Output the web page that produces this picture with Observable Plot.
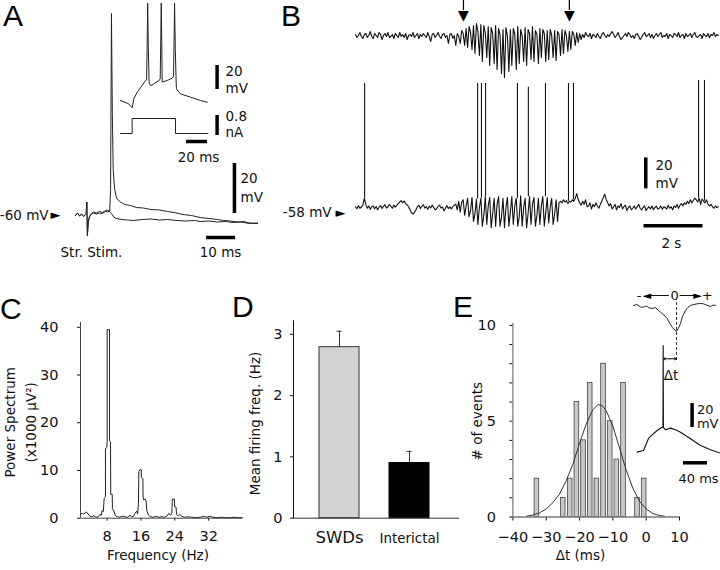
<!DOCTYPE html>
<html><head><meta charset="utf-8">
<script src="https://cdn.jsdelivr.net/npm/d3@7"></script>
<script src="https://cdn.jsdelivr.net/npm/@observablehq/plot@0.6"></script>
<style>
body{margin:0;background:#fff;}
#fig{position:relative;width:720px;height:570px;overflow:hidden;background:#fff;font-family:"DejaVu Sans",sans-serif;}
.letter{position:absolute;font-family:"Liberation Sans",Arial,sans-serif;font-size:30px;line-height:30px;color:#000;}
#fig svg [aria-label^="x-axis"] text, #fig svg [aria-label^="y-axis"] text{font-size:14.5px;font-family:"DejaVu Sans",sans-serif;fill:#111;}
</style></head><body><div id="fig"></div>
<script>
// ---------------- DATA ----------------
// Panel A: membrane potential (ms, mV); two sweeps after striatal stimulation
const aSweepSpike = [[0,-60.4],[0.7,-59.4],[1.4,-60.6],[2.1,-59.8],[2.8,-60.8],[3.4,-60.0],[3.7,-59.6],[3.9,-55.0],[4.1,-68.4],[4.4,-63.0],[4.8,-61.0],[5.4,-59.8],[6.2,-59.0],[7.2,-59.4],[8.2,-58.8],[9.2,-59.2],[10.2,-58.6],[11.0,-59.0],[11.8,-58.6],[12.1,-50],[12.4,20.4],[12.7,-20],[13.0,-42],[13.5,-50],[14.2,-53.6],[15.5,-55],[17,-56],[19,-56.4],[21,-57.2],[23.4,-57.4],[26,-58],[29,-58.2],[31.7,-58.8],[34,-59.2],[37,-60],[40,-60.4],[43,-61.2],[46,-61.6],[49,-62],[51,-62.4],[53.4,-62.6],[56,-63],[58,-62.8],[60,-63.4],[62.8,-63.6]];
const aSweepNoSpike = [[0,-60.4],[0.7,-59.4],[1.4,-60.6],[2.1,-59.8],[2.8,-60.8],[3.4,-60.0],[3.7,-59.6],[3.9,-55.0],[4.1,-68.4],[4.4,-63.0],[4.8,-61.0],[5.4,-59.8],[6.2,-59.4],[7.2,-59.8],[8.2,-59.4],[9.2,-59.6],[10.0,-59.0],[10.8,-58.2],[11.6,-58.6],[12.4,-59.6],[13.2,-61],[14,-61.6],[16,-62],[18,-62.2],[20,-62.4],[23,-62],[26,-61.8],[29,-62.2],[31.7,-62],[35,-62.4],[38,-62.6],[41,-62.4],[43,-62.8],[46,-62.6],[49,-63],[52,-62.8],[54,-63.2],[57,-63],[60,-63.6],[62.8,-63.4]];
// Panel A inset: response to current step (ms, mV relative to rest) and injected current (ms, nA)
const insetVm = [[0,0],[7.9,-2.9],[11.1,-6.3],[12.7,1.5],[15.9,7.2],[20.6,13],[23.8,17.4],[24.9,18],[25.4,50],[25.9,84.6],[26.4,50],[27.3,14.3],[29,13],[31.7,14.5],[36.5,17.4],[37.8,18.5],[38.3,50],[38.8,84.6],[39.3,50],[39.7,16],[44.4,17.4],[49.2,19.4],[50.5,21],[51,50],[51.5,84.6],[52.2,45],[53,16],[53.3,10.2],[57.1,5.8],[66.7,2.9],[76.2,0],[82.6,-1.5]];
const insetCurrent = [[0,0],[11.1,0],[11.1,0.6],[52.4,0.6],[52.4,0],[83.2,0]];
// Panel B: EEG (arbitrary units, up positive) and membrane potential (mV re -58 mV), sampled every 0.05 s
const dtB = 0.05;
const eegB = [
  1,-2,0,3,-1,-3,1,2,-2,0, 4,-1,-3,2,0,-2,3,1,-4,0, 2,-1,3,-2,-1,1,-3,2,0,-2, 3,-1,1,-2,2,-4,0,1,-1,3,
  -2,0,2,-3,1,-1,2,0,-2,3, -1,-6,1,2,-2,0,3,-1,-3,1, 2,-2,0,-8,1,2,-3,0,-10,2, -1,
  -8,5,2,-10,7, -12,9,3,-14,10, -18,12,4,-20,11, -26,10,3,-22,9, -30,8,2,-28,10, -34,7,1,-38,6,
  -42,8,0,-36,6, -30,7,1,-34,9, -28,6,0,-26,8, -30,6,2,-24,9, -26,5,1,-28,7, -22,6,2,-26,5,
  -24,6,0,-22,5, -25,4,1,-20,6, -18,5,0,-16,4, -14,4,1,-10,3, -7,2,-4,
  1,-2,3,0,-1,2,-3,1,0,-2, 2,-1,-3,1,3,0,-2,1,-1,2, 4,1,-2,0,3,-1,-4,-2,0,2, -1,3,1,-2,0,-3,1,2,-1,-4,
  -2,1,3,-1,0,2,-2,1,-3,0, 2,-1,1,3,-2,0,-1,2,-3,1, 0,-2,2,1,-1,3,-2,0,1,-3, 2,-1,0,2,-2,1,3,-1,-2,0,
  1,-3,2,0,-1,2,-2,1,0,3, -1,1,0];
const vmB = [
  0.5,-0.8,1.2,-0.5,0.3,1.5,6,2,-0.5,1, -1.2,0.4,1,-0.8,0.6,-1.5,0.2,1.3,-0.6,0.8, 1.8,-0.4,0.5,2,0.8,-0.5,1.6,0.2,1.4,2.5,
  3.5,4.5,3,4.2,2.5,1.8,0.5,-1.5,-3.5,-4.2, -3.2,-1.5,0.5,1.5,-0.6,0.8,1.8,-0.4,0.6,-1.2, 0.9,-0.3,1.6,0.2,-1.5,-0.8,0.7,1.5,-0.4,0.3,
  -2.2,-0.5,1.2,-0.7,0.4,-1,0.6,1.4,2.2,-1.5, 4,-3,3.5,5,-5,1,6,-6,-2,6.5, -9,-4,5.5,-11,0,6,-12,-5,7,-11,
  1,6.5,-13,-4,6,-12,2,7,-12,-6, 6,-13,0,6.5,-12,-3,7,-11,1,6, -12,-6,7.5,-12,0,6,-13,-4,7,-11,
  2,6.5,-12,-5,6,-11,1,7,-12,-3, 6.5,-10,0,6,-11,-4,5,-9,3,4, 3,5,3.5,4.5,2.5,4,3.5,5,4,6,
  9,5,3,1.5,4,2,5,0.5,1,3, -1,2,0.5,3,1,-0.5,2,4,6.5,8.5, 5,3,1,2.5,-1,0.5,2,-1.5,1,0,
  2.5,-1,0.5,1.5,-2,0,1,-1.5,-0.5,1, -1,0.5,2,-0.5,-1.5,0,1,-2,-0.5,0.5, -1,1,-1.5,0,0.8,-1,-0.5,1,-1.2,0.5,
  0,-1,1.5,-0.5,0.5,-1.5,1,0,2,-0.5, 1.5,2.5,1,3,2,4,2.5,5,3,4.5, 6,5,3.5,6,2,5.5,4,3,5,2,
  1,2,0.5,-0.5,1,0,0.5];
const spikeT    = [0.31,4.14,4.27,4.41,5.49,5.86,6.44,7.22,7.39,11.63,11.83];
const spikeBase = [6,5.5,6,7,6,7,7,4,5,6,4];
const spikePeak = [80,80,80,80,80,77.5,80,80,80,82,82];
const swdMarkT = [3.66, 7.25];
// Panel C: power spectrum (Hz, x1000 µV²)
const specF = [1.8,2.2,2.5,2.8,3.1,3.4,3.7,4.0,4.4,4.8,5.2,5.6,6.0,6.3,6.6,6.8,7.1,7.3,7.6,7.6,7.9,8.0,8.0,8.55,8.55,8.8,8.85,9.2,9.25,9.6,9.9,10.4,11,11.6,12.2,12.8,13.4,13.8,14.2,14.6,15.0,15.2,15.4,15.5,15.9,16.05,16.1,16.45,16.5,16.7,17.0,17.2,17.4,17.8,18.3,19,19.6,20.2,21,21.6,22.2,22.6,23.0,23.3,23.4,23.9,23.95,24.3,24.4,24.8,25.2,25.6,26.3,27,28,29,30,31,31.5,32.3,33,34,35,36,37,38,39,40];
const specP = [0.9,1.0,0.8,1.2,1.3,1.0,0.6,0.4,0.3,0.5,0.3,0.2,0.4,0.8,0.6,1.6,1.4,4.2,4.5,14.5,14.8,16,39.5,39.5,16.2,16,5.0,5.0,2.0,1.5,0.6,0.3,0.2,0.4,0.3,0.2,0.6,0.3,0.4,1.0,1.5,0.9,3.0,9.8,10.3,10.1,8.5,8.3,4.4,3.8,4.0,3.6,1.5,0.6,0.3,0.2,0.4,0.2,0.3,0.2,0.5,1.0,0.6,1.2,4.0,4.0,2.4,2.3,0.8,0.5,0.8,0.4,0.2,0.3,0.2,0.1,0.2,0.4,0.2,0.4,0.2,0.1,0.2,0.1,0.1,0.2,0.1,0.1];
// Panel D: mean firing frequency (Hz) ± SEM
const dCats = ["SWDs", "Interictal"];
const dMeans = [2.79, 0.90];
const dSems = [0.26, 0.19];
// Panel E: histogram of spike–SWD delays (ms) and Gaussian fit
const histCenters = [-32.8,-24.9,-22.8,-20.8,-18.8,-16.8,-14.8,-12.8,-10.8,-8.8,-6.8,-2.6,-0.6];
const histCounts  = [2,1,2,6,4,7,2,8,5,3,7,1,2];
const fitT = [-36,-34,-32,-30,-28,-26,-24,-22,-20,-18,-16,-14.4,-13,-12,-10,-8,-6,-4,-2,0,2,4,5.5];
const fitN = [0.04,0.1,0.22,0.42,0.75,1.2,1.9,2.75,3.85,4.85,5.6,5.88,5.78,5.55,4.75,3.6,2.45,1.5,0.82,0.42,0.18,0.08,0.04];
// Panel E inset: averaged EEG wave (a.u.) and intracellular spike (mV re baseline), ms re EEG trough
const insetEeg = [[-71.7,0],[-66,1],[-60,-1.5],[-55,-1.7],[-50,-0.5],[-45,-2.5],[-40.5,-3],[-35,-2],[-30,-5],[-26.7,-6.7],[-21,-9.5],[-15.5,-13],[-11,-18],[-7.2,-21.7],[-3,-24.5],[0,-25.7],[3,-23],[6.7,-18],[10,-11],[15,-5],[19,-2],[23.3,0],[29,1],[34.5,1.7],[40,2],[45,1.7],[50,0.5],[56.7,-1],[61,0.5],[65,0]];
const insetSpike = [[-65.5,0.3],[-55,1.7],[-46.7,11.7],[-38.3,15.8],[-30,19.2],[-23.8,21.1],[-22.6,21.1],[-22.2,89.2],[-21.8,21],[-18.3,18.9],[-10,20.3],[-1.7,18.9],[6.7,16.9],[23.3,11.4],[40,5.8],[56.7,2.2],[73.3,-0.6]];

// ---------------- HELPERS ----------------
const fig = document.getElementById("fig");
function place(el, left, top) {
  const d = document.createElement("div");
  d.style.position = "absolute"; d.style.left = left + "px"; d.style.top = top + "px";
  d.appendChild(el); fig.appendChild(d);
}
function letter(s, left, top) {
  const d = document.createElement("div"); d.className = "letter";
  d.style.left = left + "px"; d.style.top = top + "px"; d.textContent = s; fig.appendChild(d);
}
const baseStyle = {background: "transparent", overflow: "visible", fontFamily: "DejaVu Sans, sans-serif", fontSize: "14.5px", color: "#111"};
function bare(w, h, xd, yd, marks) {
  return Plot.plot({width: w, height: h, margin: 0, x: {domain: xd, axis: null}, y: {domain: yd, axis: null}, style: baseStyle, marks});
}
const txt = (s, o) => Plot.text([s], {text: d => d, fontFamily: "DejaVu Sans, sans-serif", fontSize: 13.5, fill: "#111", ...o});
const bar = 3.5;

// ---------------- PANEL A ----------------
place(bare(262, 262, [-25.86, 64.48], [-79.2, 25.6], [
  Plot.line(aSweepNoSpike, {x: d => d[0], y: d => d[1], stroke: "#222", strokeWidth: 1}),
  Plot.line(aSweepSpike, {x: d => d[0], y: d => d[1], stroke: "#222", strokeWidth: 1}),
  Plot.ruleX([54.8], {y1: -59.6, y2: -39.6, stroke: "#000", strokeWidth: bar}),
  Plot.ruleY([-69.2], {x1: 45.2, x2: 55.2, stroke: "#000", strokeWidth: bar}),
  txt("-60 mV", {x: -9.3, y: -60.3, textAnchor: "end"}),
  txt("►", {x: -6.9, y: -60.3, fontSize: 13, fill: "#000"}),
  txt("Str. Stim.", {x: 5.5, y: -75.2}),
  txt("20", {x: 56.9, y: -45.8, textAnchor: "start"}),
  txt("mV", {x: 56.9, y: -53.2, textAnchor: "start"}),
  txt("10 ms", {x: 50, y: -75.2})
]), 0, 0);
place(bare(140, 112, [-9.52, 123.8], [-10.43, 86.96], [
  Plot.line(insetVm, {x: d => d[0], y: d => d[1], stroke: "#222", strokeWidth: 1}),
  Plot.ruleX([92], {y1: 9.6, y2: 30.4, stroke: "#000", strokeWidth: bar}),
  txt("20", {x: 100, y: 25.2, textAnchor: "start"}),
  txt("mV", {x: 100, y: 10.4, textAnchor: "start"})
]), 110, 0);
place(bare(140, 60, [-9.52, 123.8], [-1.28, 1.12], [
  Plot.line(insetCurrent, {x: d => d[0], y: d => d[1], stroke: "#222", strokeWidth: 1}),
  Plot.ruleX([92], {y1: -0.08, y2: 0.72, stroke: "#000", strokeWidth: bar}),
  Plot.ruleY([-0.32], {x1: 62.9, x2: 82.9, stroke: "#000", strokeWidth: bar}),
  txt("0.8", {x: 100, y: 0.68, textAnchor: "start"}),
  txt("nA", {x: 100, y: 0.04, textAnchor: "start"}),
  txt("20 ms", {x: 74.3, y: -0.96})
]), 110, 105);
letter("A", 3, 1);

// ---------------- PANEL B ----------------
const eegRows = eegB.map((v, i) => ({t: i * dtB, v}));
const vmRows = vmB.map((v, i) => ({t: i * dtB, v}));
const spikeRows = spikeT.map((t, i) => ({t, base: spikeBase[i], peak: spikePeak[i]}));
place(bare(450, 85, [-2.881, 12.373], [-50, 35], [
  Plot.line(eegRows, {x: "t", y: "v", stroke: "#111", strokeWidth: 1.1}),
  Plot.ruleX(swdMarkT, {y1: 25, y2: 35, stroke: "#000", strokeWidth: 1.2}),
  Plot.text(swdMarkT, {x: d => d, y: 25.5, text: () => "▼", lineAnchor: "top", fontSize: 14, fill: "#000", fontFamily: "DejaVu Sans"})
]), 270, 0);
place(bare(450, 185, [-2.881, 12.373], [-34.19, 85.16], [
  Plot.line(vmRows, {x: "t", y: "v", stroke: "#111", strokeWidth: 1.1}),
  Plot.ruleX(spikeRows, {x: "t", y1: "base", y2: "peak", stroke: "#111", strokeWidth: 1.1}),
  Plot.ruleX([9.84], {y1: 12, y2: 32, stroke: "#000", strokeWidth: bar}),
  Plot.ruleY([-11.8], {x1: 9.78, x2: 11.78, stroke: "#000", strokeWidth: bar}),
  txt("20", {x: 10.17, y: 27.3, textAnchor: "start"}),
  txt("mV", {x: 10.17, y: 15.3, textAnchor: "start"}),
  txt("2 s", {x: 10.71, y: -23.2}),
  txt("-58 mV", {x: -0.81, y: -3.5, textAnchor: "end"}),
  txt("►", {x: -0.51, y: -3.5, fontSize: 13, fill: "#000"})
]), 270, 75);
letter("B", 281, 1);

// ---------------- PANEL C ----------------
const specRows = specF.map((f, i) => ({f, p: specP[i]}));
place(Plot.plot({
  width: 245, height: 280, marginLeft: 80, marginRight: 3, marginTop: 32, marginBottom: 52.3,
  style: baseStyle,
  x: {domain: [1.7, 40], ticks: [8, 16, 24, 32], tickSize: 3, tickPadding: 10, label: null},
  y: {domain: [0, 41], ticks: [0, 10, 20, 30, 40], tickSize: 3, tickPadding: 19, label: null},
  marks: [
    Plot.ruleX([1.7], {stroke: "#444"}),
    Plot.ruleY([0], {stroke: "#444"}),
    Plot.line(specRows, {x: "f", y: "p", stroke: "#222", strokeWidth: 1}),
    txt("Power Spectrum", {frameAnchor: "left", textAnchor: "middle", lineAnchor: "middle", rotate: -90, dx: -69.5, dy: 2}),
    txt("(x1000 μV²)", {frameAnchor: "left", textAnchor: "middle", lineAnchor: "middle", rotate: -90, dx: -49, dy: 2}),
    txt("Frequency (Hz)", {frameAnchor: "bottom", textAnchor: "middle", lineAnchor: "middle", dx: -3.5, dy: 37.3})
  ]
}), 0, 290);
letter("C", 0, 294);

// ---------------- PANEL D ----------------
const dRows = dCats.map((c, i) => ({cat: c, mean: dMeans[i], sem: dSems[i]}));
place(Plot.plot({
  width: 230, height: 280, marginLeft: 58, marginRight: 6, marginTop: 30.3, marginBottom: 52.3,
  style: baseStyle,
  x: {domain: dCats, axis: null, paddingInner: 0.4286, paddingOuter: 0.4, align: 0.46},
  y: {domain: [0, 3.22], ticks: [0, 1, 2, 3], tickFormat: d3.format("d"), tickSize: 3, tickPadding: 8, label: null, line: true},
  marks: [
    Plot.ruleX(dRows, {x: "cat", y1: "mean", y2: d => d.mean + d.sem, stroke: "#333"}),
    Plot.tickY(dRows, {x: "cat", y: d => d.mean + d.sem, insetLeft: 17.5, insetRight: 17.5, stroke: "#333"}),
    Plot.barY(dRows.filter(d => d.cat === "SWDs"), {x: "cat", y: "mean", fill: "#d3d3d3", stroke: "#333"}),
    Plot.barY(dRows.filter(d => d.cat === "Interictal"), {x: "cat", y: "mean", fill: "#000", stroke: "#000"}),
    Plot.ruleY([0], {stroke: "#333"}),
    Plot.text(["SWDs"], {x: d => d, text: d => d, frameAnchor: "bottom", lineAnchor: "middle", dy: 19.3, fontSize: 16.5, fontFamily: "DejaVu Sans", fill: "#111"}),
    Plot.text(["Interictal"], {x: d => d, text: d => d, frameAnchor: "bottom", lineAnchor: "middle", dy: 20.3, fontSize: 13.5, fontFamily: "DejaVu Sans", fill: "#111"}),
    txt("Mean firing freq. (Hz)", {frameAnchor: "left", textAnchor: "middle", lineAnchor: "middle", rotate: -90, dx: -38, dy: 4})
  ]
}), 235, 290);
letter("D", 232, 292);

// ---------------- PANEL E ----------------
const histRows = histCenters.map((c, i) => ({c, n: histCounts[i]}));
const fitRows = fitT.map((t, i) => ({t, n: fitN[i]}));
const halfBin = 0.7;
place(Plot.plot({
  width: 265, height: 280, marginLeft: 57.4, marginRight: 41, marginTop: 33, marginBottom: 53.5,
  style: baseStyle,
  x: {domain: [-40, 10], ticks: [-40, -30, -20, -10, 0, 10], tickSize: 4, tickPadding: 11, label: null},
  y: {domain: [0, 10.1], ticks: d3.range(0, 11), tickFormat: d => d % 5 === 0 ? String(d) : "", tickSize: 3, tickPadding: 14, label: null},
  marks: [
    Plot.rectY(histRows, {x1: d => d.c - halfBin, x2: d => d.c + halfBin, y1: 0, y2: "n", fill: "#c8c8c8", stroke: "#444", strokeWidth: 0.8}),
    Plot.line(fitRows, {x: "t", y: "n", stroke: "#333", strokeWidth: 1}),
    Plot.ruleY([0], {stroke: "#777", strokeWidth: 1.6}),
    Plot.ruleX([-40], {stroke: "#777", strokeWidth: 1.2}),
    txt("# of events", {frameAnchor: "left", textAnchor: "middle", lineAnchor: "middle", rotate: -90, dx: -35.4, dy: 1}),
    txt("Δt (ms)", {frameAnchor: "bottom", textAnchor: "middle", lineAnchor: "middle", dx: -15.7, dy: 38.2})
  ]
}), 455, 290);
place(bare(95, 80, [-85, 73.33], [-60, 20], [
  Plot.line(insetEeg, {x: d => d[0], y: d => d[1], stroke: "#222", strokeWidth: 1}),
  Plot.ruleX([0], {y1: -55, y2: 6, stroke: "#333", strokeDasharray: "3,2"}),
  Plot.ruleY([10], {x1: -44, x2: -12, stroke: "#111"}),
  Plot.ruleY([10], {x1: 6, x2: 30, stroke: "#111"}),
  txt("-", {x: -62.5, y: 10, fontSize: 13}),
  txt("◄", {x: -49, y: 10, fontSize: 11, fill: "#000"}),
  txt("0", {x: -3, y: 10, fontSize: 13}),
  txt("►", {x: 35, y: 10, fontSize: 11, fill: "#000"}),
  txt("+", {x: 51, y: 10, fontSize: 13})
]), 625, 285);
place(bare(95, 160, [-85, 73.33], [-31.7, 101.7], [
  Plot.line(insetSpike, {x: d => d[0], y: d => d[1], stroke: "#111", strokeWidth: 1.1}),
  Plot.arrow([{a: -11, b: -21.6}, {a: -11, b: -0.4}], {x1: "a", x2: "b", y1: 78.1, y2: 78.1, headLength: 4, strokeWidth: 1, stroke: "#111"}),
  txt("Δt", {x: -9.2, y: 64}),
  Plot.ruleX([26], {y1: 20.8, y2: 40.8, stroke: "#000", strokeWidth: bar}),
  Plot.ruleY([-8.6], {x1: 11.7, x2: 51.7, stroke: "#000", strokeWidth: bar}),
  txt("20", {x: 34, y: 35.5, textAnchor: "start", fontSize: 13}),
  txt("mV", {x: 34, y: 23.5, textAnchor: "start", fontSize: 13}),
  txt("40 ms", {x: 36.7, y: -21.7, fontSize: 13})
]), 625, 330);
letter("E", 453, 292);
</script></body></html>
